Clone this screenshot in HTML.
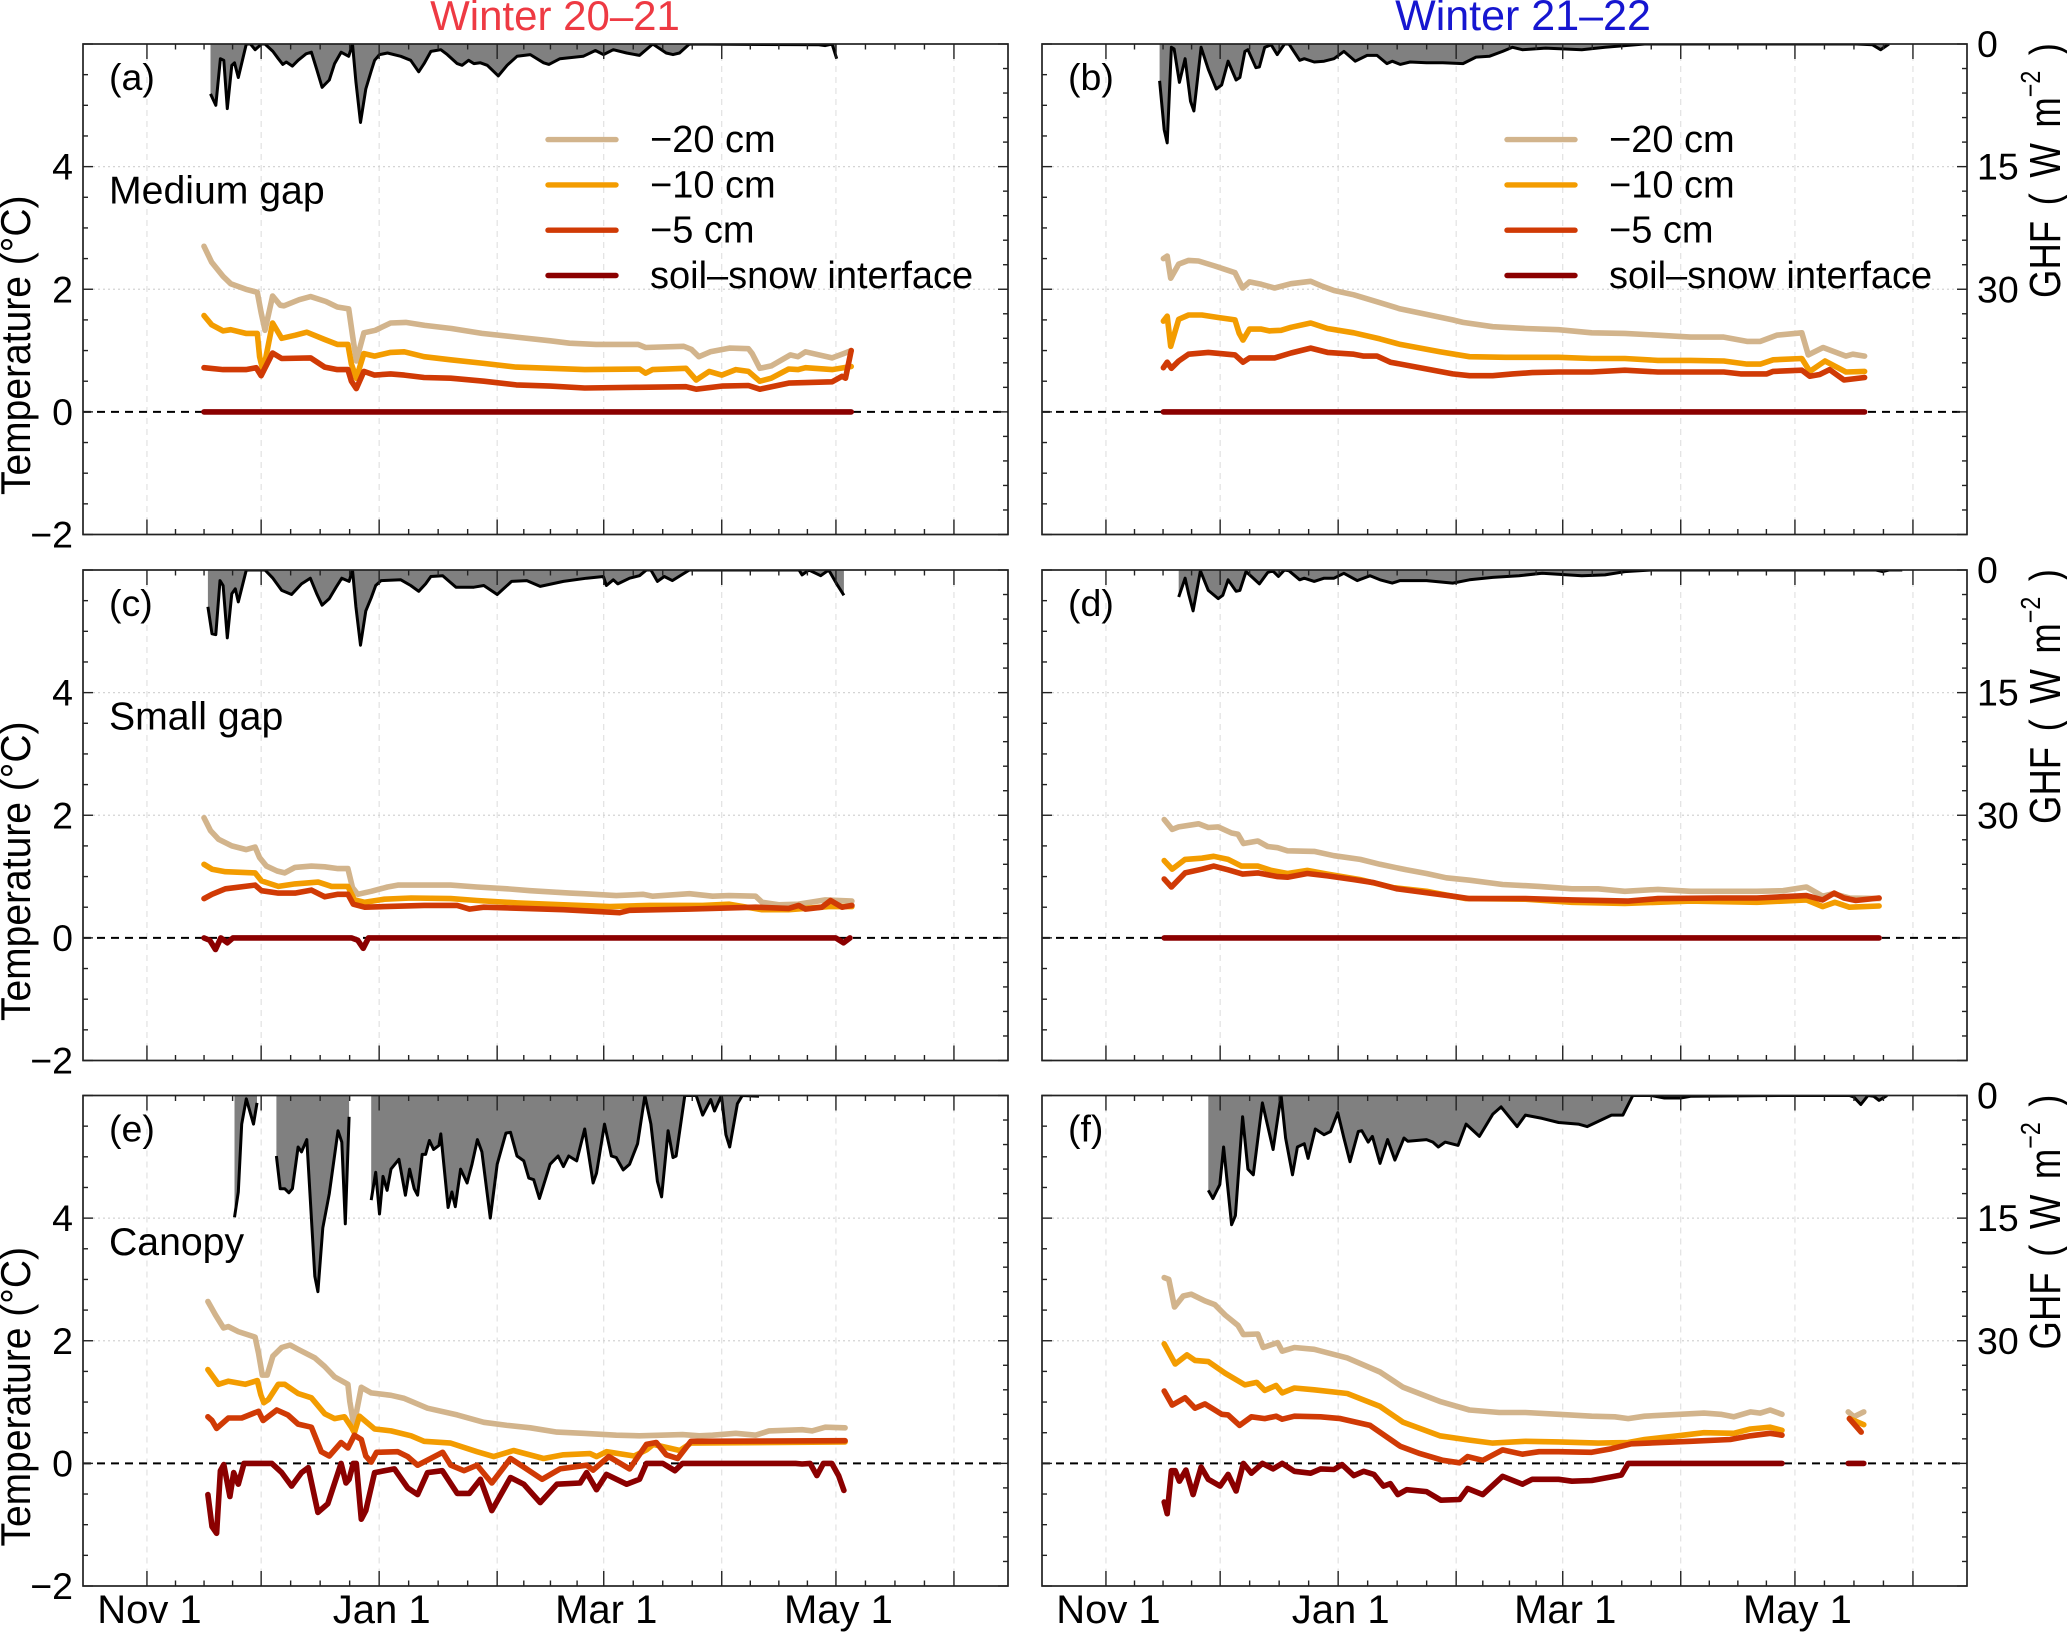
<!DOCTYPE html>
<html lang="en">
<head>
<meta charset="utf-8">
<title>Soil temperature and ground heat flux</title>
<style>
html,body{margin:0;padding:0;background:#fff;}
svg{display:block;}
text{font-family:"Liberation Sans",Arial,sans-serif;fill:#000;}
</style>
</head>
<body>
<svg id="chart" xmlns="http://www.w3.org/2000/svg" width="2067" height="1633" viewBox="0 0 2067 1633">
<text x="555" y="30" text-anchor="middle" font-size="42" style="fill:#ee3a43">Winter 20–21</text>
<text x="1523" y="30" text-anchor="middle" font-size="43" style="fill:#1616d0">Winter 21–22</text>
</svg>
<script>
// ---------- axis labels ----------
const monthStartDays=[0,30,61,92,120,151,181,212];
const monthLabels=["Nov 1",null,"Jan 1",null,"Mar 1",null,"May 1",null];
const tempMajorTicks=[-2,0,2,4];
const ghfMajorTicks=[0,15,30];
const legendLabels=["−20 cm","−10 cm","−5 cm","soil–snow interface"];
const seriesColors=["#d2b48c","#f39c00","#d03a05","#8b0000"];

// ---------- panel (a) medium gap 20-21: [day since Nov 1, value] ----------
const aT20=[[15,2.7],[17,2.44],[20,2.21],[22,2.09],[26,2],[29,1.95],[30,1.62],[31,1.33],[33,1.89],[35,1.74],[36,1.73],[40,1.83],[43,1.88],[47,1.8],[50,1.71],[53,1.68],[54,1.25],[55,.83],[57,1.29],[60,1.33],[64,1.45],[68,1.46],[73,1.41],[80,1.36],[88,1.28],[97,1.22],[106,1.16],[111,1.12],[118,1.1],[129,1.1],[131,1.05],[141,1.07],[143,1.02],[145,.9],[148,.98],[153,1.04],[158,1.03],[159,.95],[161,.71],[164,.75],[169,.93],[171,.9],[173,.98],[180,.88],[183,.95],[185,1]];
const aT10=[[15,1.57],[17,1.42],[20,1.32],[22,1.34],[26,1.28],[29,1.28],[29.6,.9],[30.5,.66],[33,1.45],[35.4,1.2],[39,1.25],[42,1.3],[46.7,1.18],[50,1.1],[52.8,1.1],[53.7,.78],[55,.55],[57,.95],[59.8,.91],[64,.97],[67.6,.98],[72.8,.9],[79.8,.85],[88.5,.79],[97,.73],[106,.71],[115,.69],[129.4,.7],[131,.63],[132.8,.69],[141.6,.71],[144.3,.52],[147.7,.66],[151,.6],[154.7,.69],[158,.66],[161,.5],[164,.55],[168.6,.7],[171,.69],[173,.72],[180,.69],[185,.74]];
const aT5=[[15,.72],[20,.69],[26,.69],[28.7,.72],[30,.59],[33,.96],[35.4,.87],[43,.88],[46.7,.73],[50,.69],[52.8,.69],[53.7,.5],[55,.38],[57,.66],[59.8,.6],[64,.62],[67.6,.6],[72.8,.56],[79.8,.55],[88.5,.5],[97,.44],[106,.42],[115,.39],[129.4,.4],[141.6,.41],[144.3,.37],[151,.42],[158,.43],[161,.37],[168.6,.47],[180,.49],[182.6,.58],[183.5,.55],[185,1]];
const aIface=[[15,0],[185,0]];
const aGhf=[[16.7,6.1],[18.1,7.5],[19.3,1.8],[20.2,2],[21.1,7.9],[22.3,2.6],[23,2.3],[24,4.1],[26.1,0],[27.2,0],[28.4,.7],[30.1,0],[31,0],[33.1,.9],[34.5,1.8],[35.7,2.5],[36.6,2.2],[38.2,2.7],[39.7,2],[41.8,1.2],[43.2,1],[44.6,3.1],[46,5.3],[47.9,4.4],[49.3,2.4],[51,1],[53,1.5],[54,0],[54.9,4.6],[56.1,9.6],[57.5,5.5],[58.9,3.3],[59.8,2],[61.1,1.3],[63.2,1.1],[66.7,1.5],[69.3,2],[71.4,3.4],[72.8,2.4],[74.6,.9],[77.2,.7],[78.9,1.3],[81.5,2.4],[82.8,2.6],[84.5,2],[85.9,2.4],[87.6,2.3],[89.4,2.6],[92.3,3.9],[94.6,2.6],[97.2,1.5],[100.7,1.3],[104.2,2.3],[105.6,2.5],[108.5,1.8],[114.6,1.5],[117.8,.8],[119.9,1.3],[122.5,.7],[126,1.1],[129.4,1.4],[132.9,0],[136.4,1.1],[138.2,1.3],[139.9,1.1],[142.5,0],[176.5,.1],[178.2,.2],[180,0],[181.2,1.8]];

// ---------- panel (b) medium gap 21-22 ----------
const bT20=[[15.1,2.5],[16.1,2.54],[17,2.18],[19.1,2.41],[21.7,2.47],[24.3,2.46],[28.6,2.38],[33.9,2.27],[35.9,2.02],[37.7,2.12],[40.8,2.08],[44.3,2.02],[48.6,2.09],[53.8,2.13],[56.4,2.06],[59.9,1.98],[65.1,1.91],[72,1.78],[77.3,1.68],[84.2,1.59],[91.1,1.5],[93.8,1.46],[101.6,1.39],[110.2,1.36],[118.9,1.34],[127.6,1.29],[136.3,1.28],[145,1.25],[153.6,1.22],[162.3,1.22],[168.4,1.15],[171.9,1.15],[176.2,1.25],[182.8,1.29],[184.5,.93],[188.4,1.05],[194.4,.91],[196.2,.94],[199.3,.91]];
const bT10=[[15.1,1.48],[16.1,1.56],[17,1.07],[19.1,1.51],[21.7,1.58],[25.2,1.58],[29.5,1.54],[33.9,1.5],[35,1.28],[36,1.17],[37.7,1.35],[40.8,1.35],[42.9,1.32],[46,1.33],[48.6,1.38],[53.8,1.45],[58.2,1.36],[65.1,1.29],[72,1.19],[77.3,1.1],[87.7,.98],[95.5,.9],[105,.89],[118.9,.89],[127.6,.87],[136.3,.87],[145,.84],[153.6,.84],[162.3,.83],[168.4,.78],[171.9,.78],[175.3,.85],[182.8,.87],[184.9,.66],[188.9,.83],[194.4,.65],[199.3,.66]];
const bT5=[[15.1,.72],[16.1,.81],[17.2,.71],[19.1,.83],[21.7,.94],[26.9,.97],[33.9,.93],[36,.81],[37.7,.88],[44.3,.88],[48.6,.96],[53.8,1.04],[58.2,.97],[65.1,.94],[67.7,.91],[71.2,.91],[74.7,.81],[82.5,.72],[91.1,.62],[95.5,.59],[101.6,.59],[106.8,.62],[112,.64],[118.9,.65],[127.6,.65],[136.3,.68],[145,.65],[162.3,.65],[166.7,.62],[173.6,.62],[175.3,.66],[182.8,.68],[184.9,.58],[187.5,.61],[190.1,.69],[193.9,.52],[199.3,.56]];
const bIface=[[15.1,0],[199.3,0]];
const bGhf=[[14.1,4.5],[15.3,10.5],[16.1,12.1],[17.2,.4],[17.9,.6],[19.3,4.7],[20.8,1.8],[22.2,7],[23.1,8.2],[25,.4],[26.9,3.1],[29,5.5],[30.4,5],[32.1,2.1],[34.2,4.4],[35.2,4.1],[36.5,.9],[37.3,.7],[39.4,2.9],[40.3,2.8],[41.7,.4],[43.4,.1],[45,1.3],[46.9,0],[48.1,0],[50.9,2],[52.1,1.8],[54.7,2.2],[57.3,2.1],[59.9,1.8],[62.5,.9],[65.5,2.1],[68.6,1.4],[71.2,1.4],[73.8,2.4],[75.2,2.1],[77.3,2.5],[79.9,2.2],[84.2,2.3],[88.5,2.3],[93.8,2.4],[97.2,1.6],[100.7,1.5],[104.2,.9],[106.8,.4],[109.4,.7],[115.5,.5],[125,.7],[131.1,.4],[141.5,0],[197.1,0],[201.4,.1],[203.5,.7],[205.7,0]];

// ---------- panel (c) small gap 20-21 ----------
const cT20=[[15,1.96],[16.7,1.75],[18.8,1.61],[22.3,1.5],[26.1,1.44],[28.4,1.48],[29.6,1.31],[31.4,1.17],[34.2,1.09],[36.2,1.06],[38.9,1.15],[43.2,1.17],[46.7,1.16],[50.2,1.13],[52.8,1.13],[54,.82],[55.4,.71],[58.9,.76],[63.2,.83],[65.9,.86],[72.8,.86],[79.8,.86],[86.7,.83],[94.6,.8],[100.7,.77],[111.1,.73],[114.6,.72],[123.3,.69],[130.3,.71],[132.9,.68],[142.5,.72],[148.6,.68],[152.9,.69],[159.9,.68],[161.6,.58],[166,.54],[171.2,.55],[178.2,.62],[185.2,.6]];
const cT10=[[15,1.2],[17.1,1.12],[20.6,1.08],[28.4,1.06],[30.1,.93],[34.5,.84],[38.9,.88],[45,.91],[48.5,.84],[52.8,.84],[54.5,.62],[57.2,.58],[62.4,.63],[69.4,.65],[79.8,.64],[86.7,.61],[97.2,.57],[109.4,.54],[121.6,.51],[132.1,.53],[146,.53],[153,.55],[161.6,.46],[168.6,.46],[179.1,.51],[185.2,.51]];
const cT5=[[15,.64],[17.1,.71],[20.6,.8],[28.4,.86],[30.1,.77],[34.5,.73],[38.9,.73],[43.2,.78],[46.7,.67],[50.2,.71],[52.8,.71],[54.2,.55],[57.2,.5],[62.4,.51],[72.8,.53],[81.5,.53],[84.7,.47],[88.5,.5],[99,.48],[109.4,.46],[124.2,.41],[126.8,.45],[142.5,.47],[159.9,.5],[168.6,.48],[171.2,.53],[173,.47],[177.3,.5],[179.6,.61],[182.6,.5],[185.2,.53]];
const cIface=[[15,0],[16.5,-.04],[18,-.19],[19.4,0],[21.1,-.08],[22.6,0],[53.7,0],[55.4,-.04],[56.8,-.17],[58.2,0],[180.9,0],[183,-.08],[184.7,0]];
const cGhf=[[16,4.5],[17.1,7.8],[18.1,7.9],[19.2,1.3],[20,1.9],[21.1,8.3],[22.3,2.9],[23.2,2.3],[24,3.9],[26.1,0],[28.4,0],[31,0],[33.1,1],[35.4,2.5],[38,3],[40.6,1.7],[42.9,1],[44.6,2.9],[46,4.3],[47.9,3.5],[49.7,2.1],[51.2,1],[53.1,1.4],[54,0],[54.9,4.5],[56.1,9.2],[57.5,5],[58.9,3.4],[60.1,1.9],[61.5,1.3],[66.7,1.2],[69.3,1.9],[71.4,2.6],[73.2,1.7],[74.6,.8],[77.7,.7],[81.2,2.1],[85.9,2.1],[88.5,1.9],[92,3],[95.8,1.4],[99.8,1.3],[103.3,2],[109.4,1.4],[115.5,1],[119.9,.8],[120.7,1.9],[122.5,1.2],[123.7,1.7],[126.8,1],[129.4,.7],[131.2,0],[132.4,0],[134.1,1.4],[135.9,.8],[138,1.3],[142.5,0],[171.3,0],[172.1,.6],[173.9,0],[177,.7],[179.1,0],[181.2,1.7],[183.1,3.1]];

// ---------- panel (d) small gap 21-22 ----------
const dT20=[[15.3,1.93],[17.4,1.77],[19.1,1.81],[24.3,1.86],[26.9,1.8],[29.5,1.81],[33,1.71],[34.7,1.69],[36.1,1.54],[39.9,1.58],[42.5,1.49],[45.1,1.47],[47.7,1.42],[54.7,1.41],[59.9,1.34],[66.8,1.28],[72,1.2],[78.9,1.11],[84.2,1.05],[89.4,.98],[95.5,.94],[104.2,.87],[113.8,.84],[122.4,.8],[129.3,.8],[136.3,.76],[145,.79],[153.6,.76],[171,.76],[177.9,.77],[184,.83],[188.3,.68],[191,.72],[195.3,.65],[203.1,.64]];
const dT10=[[15.3,1.26],[17.4,1.12],[20.8,1.28],[25.2,1.3],[28.3,1.33],[32.1,1.28],[35.6,1.17],[39.9,1.17],[43.4,1.1],[47.7,1.05],[52.9,1.1],[58.2,1.04],[66.8,.95],[75.5,.82],[84.2,.76],[91.1,.68],[94.6,.64],[110.2,.63],[122.4,.58],[136.3,.56],[153.6,.6],[171,.58],[184,.62],[188.3,.51],[191.5,.58],[195.3,.5],[203.1,.52]];
const dT5=[[15.3,.96],[17.2,.83],[20.8,1.06],[25.2,1.12],[28.3,1.17],[32.1,1.11],[35.9,1.04],[39.9,1.06],[45.1,1],[47.7,.99],[52.9,1.05],[58.2,1.01],[65.1,.95],[70.4,.9],[76.4,.8],[82.5,.75],[91.1,.68],[95.5,.64],[110.2,.64],[122.4,.62],[137.2,.6],[145,.64],[160.6,.65],[171,.65],[184,.69],[188.3,.62],[191.3,.73],[193.9,.65],[197,.61],[203.1,.65]];
const dIface=[[15.3,0],[203.1,0]];
const dGhf=[[19.1,3.3],[20.8,1],[21.7,2.9],[22.9,5],[24.8,.1],[26.9,2.5],[29.5,3.5],[30.7,3.1],[32.1,1.2],[34.2,2.6],[35.2,2.5],[36.8,.2],[38.2,.8],[40.3,1.7],[42.5,.3],[43.8,.1],[45.3,.8],[46.9,0],[48.1,.1],[50.9,1.2],[52.1,1],[54.7,1.4],[57.3,1],[59.9,1],[62.5,.4],[66,1.3],[69.4,.7],[72,1.2],[75.2,1.6],[77.3,1.3],[84.2,1.3],[91.1,1.6],[95.5,1.2],[101.6,.9],[108.5,.7],[114.6,.4],[125,.7],[131.1,.6],[136.3,.2],[143.2,0],[202.3,0],[204,.2],[205.7,0],[209.2,0]];

// ---------- panel (e) canopy 20-21 ----------
const eT20=[[16,2.64],[18,2.42],[20.1,2.21],[21.4,2.23],[24,2.15],[28.4,2.06],[29.3,1.8],[30.3,1.44],[31.6,1.44],[33.1,1.75],[35.4,1.89],[37.6,1.93],[39.7,1.86],[44.1,1.72],[46.7,1.58],[49.3,1.41],[52.8,1.29],[53.3,1.01],[54.2,.67],[54.9,.79],[56.3,1.24],[58.9,1.15],[64.1,1.11],[67.6,1.06],[73.7,.9],[81.5,.79],[88.5,.67],[94.6,.62],[100.7,.58],[107.7,.51],[114.6,.49],[123.3,.46],[129.4,.45],[140.7,.47],[145.1,.45],[148.6,.46],[154.7,.49],[159.9,.46],[163.4,.53],[172.1,.55],[174.7,.53],[178.2,.59],[183.4,.58]];
const eT10=[[16,1.53],[18.8,1.29],[21.4,1.34],[25.8,1.29],[29,1.35],[29.9,1.12],[30.7,.99],[31.9,1.04],[34.5,1.29],[36.2,1.29],[39.7,1.14],[43.2,1.07],[46.7,.81],[49.3,.73],[51.9,.76],[53.7,.59],[54.5,.5],[55.8,.77],[59.8,.56],[64.1,.53],[69.4,.45],[72.8,.36],[79.8,.33],[86.7,.19],[91.1,.11],[96.3,.21],[104.2,.08],[109.4,.14],[116.4,.16],[118.1,.11],[120.7,.19],[128,.12],[131.2,.22],[133,.31],[140,.21],[142.9,.33],[183.4,.35]];
const eT5=[[16,.76],[17.1,.7],[18.3,.57],[21.4,.74],[24.9,.74],[29.3,.85],[30.5,.7],[34.1,.87],[37,.79],[39.7,.64],[43.2,.59],[45.8,.19],[47.9,.12],[51,.34],[52.8,.25],[54.5,.46],[56.3,.39],[57.5,.12],[58.9,.02],[60.3,.18],[65.9,.19],[68.5,.11],[71.1,-.03],[77.7,.18],[79.8,-.03],[83.3,-.12],[86.7,-.03],[90.6,-.32],[95.5,.08],[99,-.06],[103.8,-.26],[108.5,-.09],[115.5,-.03],[117.2,-.11],[121.3,.11],[126.8,-.09],[131.2,.31],[133.8,.34],[136.4,.14],[139.4,.08],[142.9,.36],[183.4,.37]];
const eIface=[[16,-.51],[17.1,-1.03],[18.3,-1.14],[19.3,-.12],[20.2,-.02],[21.8,-.54],[22.8,-.15],[24,-.34],[25.5,0],[32.8,0],[35.4,-.15],[38,-.37],[40.6,-.15],[42.4,-.07],[44.9,-.8],[47.5,-.66],[51,0],[52.3,-.32],[53.1,-.26],[54.2,0],[55,0],[56.3,-.91],[57.5,-.77],[59.8,-.15],[65,-.09],[68.5,-.4],[71.1,-.51],[73.7,-.15],[77.6,-.12],[81.5,-.49],[84.7,-.49],[87.6,-.26],[90.6,-.77],[95.5,-.23],[99,-.34],[103.3,-.64],[107.7,-.34],[113.8,-.32],[115.5,-.15],[118.1,-.43],[120.7,-.18],[126,-.34],[129.4,-.26],[131.2,0],[135.5,0],[138.7,-.12],[140.7,0],[170.4,0],[172.1,-.01],[174.2,0],[176,-.2],[177.7,0],[179.9,0],[181.7,-.2],[183.1,-.44]];
const eGhf1=[[23,14.9],[24,11.8],[24.9,3.5],[26.1,.4],[28,3.5],[28.9,.9]];
const eGhf2=[[34,7.4],[35,11.4],[36.2,11.4],[37.3,11.9],[38.2,11.4],[39.7,6.3],[40.6,6.9],[42,5.4],[44.1,22.1],[44.9,24],[46.2,16.2],[47.9,12],[50.2,4.3],[51.2,5.7],[52.1,15.7],[53.1,2.6]];
const eGhf3=[[58.9,12.8],[60.1,9.4],[61.1,14.5],[62,9.9],[63.1,11.6],[64.1,9],[66.2,7.8],[67.9,12.2],[69,9],[70.2,11.4],[71.1,12.2],[72.3,7.2],[73.2,7.2],[74.2,5.5],[75.3,6.6],[76.7,6.1],[77.2,4.7],[79.1,13.7],[80.1,11.8],[81,13.6],[82.4,9],[84.1,10.7],[85.4,8.4],[86.8,5.4],[88,6.9],[90.2,15],[92,8.4],[94.3,4.6],[95.5,4.5],[97.2,7.4],[99,8],[100.3,10.1],[101.6,10.3],[103.1,12.6],[105.9,8.4],[108,7.4],[109.4,8.7],[110.8,7.4],[112.9,8],[115,4.1],[117.2,10.7],[118.1,9.5],[120.2,3.5],[122,7.4],[123.3,7.6],[125.1,9.1],[126.8,8.4],[128.9,5.9],[130.8,0],[132.4,3.5],[134.1,10.5],[135.2,12.4],[136.9,4.3],[138.2,7.6],[139,7.4],[141.3,0],[144.3,0],[146,2.4],[148.1,.5],[149.1,1.9],[150.9,0],[152.1,4.8],[153.1,6.3],[155.1,1],[156.4,0],[160.8,.1]];

// ---------- panel (f) canopy 21-22 ----------
const fT20=[[15.3,3.03],[16.5,3],[18,2.55],[20.3,2.73],[22.4,2.76],[26,2.65],[28.6,2.59],[31.3,2.42],[34.7,2.25],[36.1,2.1],[39.9,2.11],[41.3,1.89],[45.1,1.97],[46.3,1.83],[49.5,1.89],[54.7,1.86],[63.4,1.72],[72,1.49],[78.1,1.24],[87.7,1.01],[95.5,.87],[103.3,.83],[110.2,.83],[118.9,.8],[127.6,.77],[133.7,.76],[137.2,.73],[141.5,.77],[157.1,.82],[161.5,.8],[164.9,.76],[169.3,.84],[171.9,.82],[174.5,.87],[177.6,.8]];
const fT20Late=[[195,.84],[196.5,.76],[199.1,.84]];
const fT10=[[15.3,1.95],[18.2,1.62],[21.3,1.77],[23.4,1.68],[26.9,1.66],[31.3,1.47],[36.5,1.28],[39.6,1.32],[41.7,1.19],[44.7,1.27],[46.3,1.15],[49.5,1.23],[54.7,1.2],[63.4,1.14],[72,.93],[78.1,.67],[87.7,.45],[95.5,.38],[101.6,.33],[110.2,.36],[118.9,.35],[129.3,.33],[137.2,.34],[141.5,.39],[150.2,.45],[157.1,.5],[164.9,.49],[169.3,.56],[174.5,.59],[177.6,.54]];
const fT10Late=[[195.3,.73],[199.1,.63]];
const fT5=[[15.3,1.18],[17.4,.95],[20.8,1.07],[23.4,.9],[26,.97],[30.4,.8],[32.1,.79],[35.1,.62],[38.2,.76],[41.7,.73],[44.7,.77],[46.3,.72],[49.5,.77],[56.4,.76],[61.6,.73],[69.4,.62],[77.3,.28],[82.5,.16],[88.5,.05],[92.9,.01],[95,.11],[99,.05],[104.2,.22],[109.4,.15],[113.8,.19],[118.9,.19],[127.6,.18],[132.8,.24],[138,.32],[153.6,.36],[164,.39],[169.3,.45],[174.5,.49],[177.6,.46]];
const fT5Late=[[195.3,.73],[198.4,.51]];
const fIface=[[15.3,-.63],[16.1,-.82],[17.2,-.12],[18.2,-.12],[19.3,-.29],[21,-.11],[22.9,-.51],[25,-.06],[26.9,-.26],[30,-.37],[32.1,-.18],[34.2,-.45],[36.1,0],[38.2,-.16],[41.1,0],[43.9,-.09],[46.3,0],[49.5,-.13],[53.8,-.16],[56.4,-.09],[59.9,-.1],[62,-.02],[65.1,-.2],[67.7,-.13],[70.4,-.18],[72.9,-.37],[74.7,-.33],[76.7,-.51],[79,-.43],[84.2,-.46],[88,-.6],[92.9,-.59],[95,-.41],[99,-.51],[104.2,-.21],[109.4,-.34],[112,-.26],[118.9,-.26],[122.4,-.29],[127.6,-.28],[132.8,-.22],[135.4,-.19],[137.2,0],[177.6,0]];
const fIfaceLate=[[195,0],[199.1,0]];
const fGhf=[[26.9,11.6],[28.1,12.6],[29.9,10.9],[30.9,6.3],[33,15.8],[34,14.7],[35.9,2.6],[37.3,9],[38.7,9.7],[41.1,.9],[43.9,6.6],[46,0],[47.2,5.2],[49,9.7],[50.3,6.3],[52.1,5.9],[53.1,7.7],[55,4.1],[57.3,4.8],[59,4.4],[60.9,2.1],[62.5,5.2],[64.1,8.1],[66.3,4.4],[67.2,4.3],[68.9,5.7],[70,5],[72,8.3],[74,5.4],[75.9,7.9],[78.3,5.2],[79.3,5.6],[84.2,5.4],[85.9,5.7],[87.3,6.3],[89.1,5.7],[92.5,6.1],[94.6,3.5],[98.1,5],[101.6,2.3],[103.8,1.4],[108,3.8],[110.2,2.4],[114.6,2.8],[118.9,3.3],[124.1,3.5],[126.4,3.8],[132.8,2.4],[135.8,2.4],[138.4,0],[143.2,0],[146.7,.3],[151,.3],[153.6,.1],[177.1,0],[195.3,0],[196.5,.2],[198.3,1.1],[200.2,0],[201.7,.1],[203.1,.6],[205.2,0]];

// ---------- layout ----------
const svg=document.getElementById('chart');
const NS='http://www.w3.org/2000/svg';
const PANEL_W=925, PANEL_H=490.5, DAY_MIN=-16.8, DAY_MAX=226.2, T_MIN=-2, T_MAX=6, GHF_PER_UNIT=7.5;
const FS=37.5;

const panels=[
 {id:'a',left:83,top:44,tag:'(a)',site:'Medium gap',col:0,t:[[aT20],[aT10],[aT5],[aIface]],ghf:[aGhf],legend:true},
 {id:'b',left:1042,top:44,tag:'(b)',col:1,t:[[bT20],[bT10],[bT5],[bIface]],ghf:[bGhf],legend:true},
 {id:'c',left:83,top:570,tag:'(c)',site:'Small gap',col:0,t:[[cT20],[cT10],[cT5],[cIface]],ghf:[cGhf]},
 {id:'d',left:1042,top:570,tag:'(d)',col:1,t:[[dT20],[dT10],[dT5],[dIface]],ghf:[dGhf]},
 {id:'e',left:83,top:1095.5,tag:'(e)',site:'Canopy',col:0,t:[[eT20],[eT10],[eT5],[eIface]],ghf:[eGhf1,eGhf2,eGhf3],months:true},
 {id:'f',left:1042,top:1095.5,tag:'(f)',col:1,t:[[fT20,fT20Late],[fT10,fT10Late],[fT5,fT5Late],[fIface,fIfaceLate]],ghf:[fGhf],months:true}
];
const seriesNames=['temp-20cm','temp-10cm','temp-5cm','soil-snow-interface'];

function xAxis(p,day){return p.left+(day-DAY_MIN)*PANEL_W/(DAY_MAX-DAY_MIN);}
function yAxis(p,t){return p.top+(T_MAX-t)*PANEL_H/(T_MAX-T_MIN);}
function ghfAxis(p,g){return yAxis(p,T_MAX-g/GHF_PER_UNIT);}
function make(tag,attrs,parent){
  const el=document.createElementNS(NS,tag);
  for(const k in attrs)el.setAttribute(k,attrs[k]);
  parent.appendChild(el);
  return el;
}
function segLine(g,x1,y1,x2,y2,stroke,w,extra){
  const l=make('line',Object.assign({x1:x1,y1:y1,x2:x2,y2:y2,stroke:stroke,'stroke-width':w},extra||{}),g);
  return l;
}
function addText(parent,x,y,str,size,anchor,name){
  const t=make('text',{x:x,y:y,'font-size':size,'text-anchor':anchor||'start'},parent);
  t.textContent=str;
  
  
  return t;
}

const defs=make('defs',{},svg);
panels.forEach(function(p){
  const right=p.left+PANEL_W, bottom=p.top+PANEL_H;
  const g=make('g',{},svg);
  
  
  const clip=make('clipPath',{id:'clip-'+p.id},defs);
  make('rect',{x:p.left,y:p.top,width:PANEL_W,height:PANEL_H},clip);

  // grid
  const grid=make('g',{},g);
  
  
  monthStartDays.forEach(function(d){
    segLine(grid,xAxis(p,d),p.top,xAxis(p,d),bottom,'#dcdcdc',1,{'stroke-dasharray':'6 5'});
  });
  tempMajorTicks.filter(function(t){return t>0;}).forEach(function(t){
    segLine(grid,p.left,yAxis(p,t),right,yAxis(p,t),'#d4d4d4',1.2,{'stroke-dasharray':'2 3'});
  });

  // GHF area + line
  const clipped=make('g',{'clip-path':'url(#clip-'+p.id+')'},g);
  p.ghf.forEach(function(seg,i){
    let d='M'+xAxis(p,seg[0][0]).toFixed(1)+' '+p.top;
    seg.forEach(function(pt){d+='L'+xAxis(p,pt[0]).toFixed(1)+' '+ghfAxis(p,pt[1]).toFixed(1);});
    d+='L'+xAxis(p,seg[seg.length-1][0]).toFixed(1)+' '+p.top+'Z';
    const area=make('path',{d:d,fill:'#808080',stroke:'none'},clipped);
    
    
  });
  p.ghf.forEach(function(seg,i){
    const d='M'+seg.map(function(pt){return xAxis(p,pt[0]).toFixed(1)+' '+ghfAxis(p,pt[1]).toFixed(1);}).join('L');
    const line=make('path',{d:d,fill:'none',stroke:'#000','stroke-width':3,'stroke-linejoin':'round'},clipped);
    
    
  });

  // zero line
  const zero=segLine(g,p.left,yAxis(p,0),right,yAxis(p,0),'#000',1.9,{'stroke-dasharray':'8 6'});
  
  

  // temperature series
  p.t.forEach(function(parts,si){
    parts.forEach(function(seg){
      const d='M'+seg.map(function(pt){return xAxis(p,pt[0]).toFixed(1)+' '+yAxis(p,pt[1]).toFixed(1);}).join('L');
      const line=make('path',{d:d,fill:'none',stroke:seriesColors[si],'stroke-width':5.6,'stroke-linejoin':'round','stroke-linecap':'round'},g);
      
      
    });
  });

  // ticks
  const ticks=make('g',{},g);
  
  
  const TC='#222';
  monthStartDays.forEach(function(d,i){
    const x=xAxis(p,d);
    segLine(ticks,x,bottom,x,bottom-15,TC,1.4);
    segLine(ticks,x,p.top,x,p.top+15,TC,1.4);
    if(i<monthStartDays.length-1){
      const span=monthStartDays[i+1]-d;
      [.25,.5,.75].forEach(function(f){
        const mx=xAxis(p,d+span*f);
        segLine(ticks,mx,bottom,mx,bottom-5.5,TC,1.4);
        segLine(ticks,mx,p.top,mx,p.top+5.5,TC,1.4);
      });
    }
  });
  for(let k=0;k<=16;k++){
    const t=T_MIN+k*0.5, y=yAxis(p,t), major=k%4===0;
    segLine(ticks,p.left,y,p.left+(major?10:5),y,TC,1.4);
  }
  for(let k=0;k<=20;k++){
    const t=T_MIN+k*0.4, y=yAxis(p,t), major=k%5===0;
    segLine(ticks,right,y,right-(major?10:5),y,TC,1.4);
  }

  // frame
  const frame=make('rect',{x:p.left,y:p.top,width:PANEL_W,height:PANEL_H,fill:'none',stroke:'#222','stroke-width':1.7},g);
  
  

  // tag and site labels
  addText(g,p.left+26,p.top+46,p.tag,FS,'start','panel-label-'+p.id);
  if(p.site)addText(g,p.left+26,p.top+159.5,p.site,39.2,'start','site-label-'+p.id);

  // left col tick labels and title
  if(p.col===0){
    tempMajorTicks.forEach(function(t){
      addText(g,p.left-10,yAxis(p,t)+13,(t<0?'−':'')+Math.abs(t),FS,'end','temp-tick-label');
    });
    const cy=p.top+PANEL_H/2+56;
    const ty=addText(g,0,0,'Temperature (°C)',41.5,'middle','y-axis-title-'+p.id);
    ty.setAttribute('transform','translate(30 '+cy+') rotate(-90) scale(.94 1)');
  } else {
    ghfMajorTicks.forEach(function(gv){
      addText(g,right+10,ghfAxis(p,gv)+13,String(gv),FS,'start','ghf-tick-label');
    });
    const cy=p.top+126.5;
    const ty=make('text',{x:0,y:0,'font-size':44,'text-anchor':'middle','word-spacing':6.5,transform:'translate(2060 '+cy+') rotate(-90) scale(.83 1)'},g);
    
    
    ty.appendChild(document.createTextNode('GHF ( W m'));
    const sup=make('tspan',{dy:-20,'font-size':28},ty);
    sup.textContent='−2';
    const tail=make('tspan',{dy:20},ty);
    tail.textContent=' )';
  }

  // month labels
  if(p.months){
    monthStartDays.forEach(function(d,i){
      if(monthLabels[i])addText(g,xAxis(p,d)+2.5,1623,monthLabels[i],40,'middle','month-label');
    });
  }

  // legend
  if(p.legend){
    const lg=make('g',{},g);
    
    
    legendLabels.forEach(function(lab,i){
      const y=p.top+95.6+i*45.3;
      const sw=segLine(lg,p.left+465,y,p.left+533,y,seriesColors[i],5.4,{'stroke-linecap':'round'});
      
      
      addText(lg,p.left+567,y+12.5,lab,38,'start','legend-entry');
    });
  }
});
</script>
</body>
</html>
